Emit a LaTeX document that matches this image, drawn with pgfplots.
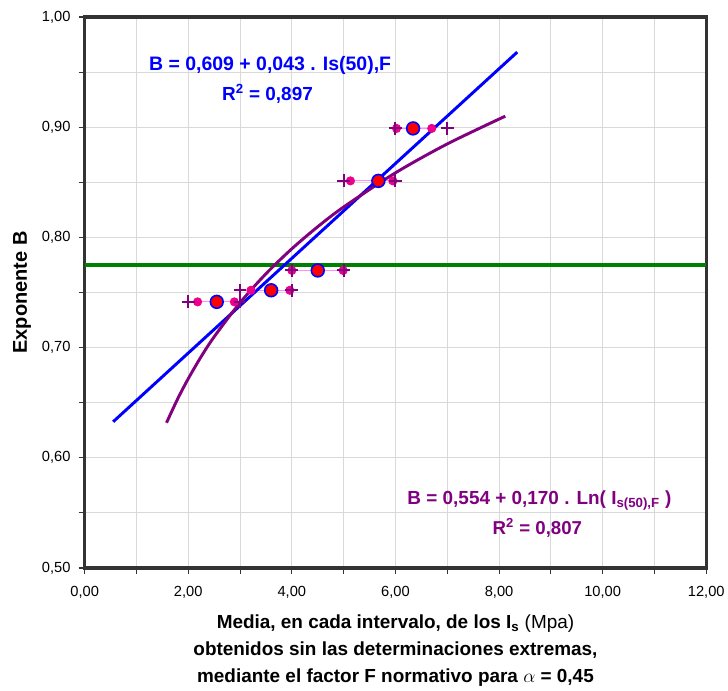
\documentclass[border=0pt]{standalone}
\usepackage{fontspec}
\setmainfont{Liberation Sans}
\usepackage{pgfplots}
\usepackage{pgfplotstable}
\pgfplotsset{compat=1.18}
\definecolor{gridgray}{RGB}{217,217,217}
\definecolor{framegray}{RGB}{51,51,51}
\definecolor{dpurple}{RGB}{128,0,128}
\definecolor{dgreen}{RGB}{0,128,0}
\definecolor{pinkline}{RGB}{255,140,255}

\pgfplotstableread{
x y
2.55 0.7415
3.60 0.7520
4.50 0.7700
5.67 0.8513
6.34 0.8989
}\means

\pgfplotstableread{
x y
2.0 0.7415
3.0 0.7415
3.0 0.7520
4.0 0.7520
4.0 0.7700
5.0 0.7700
5.0 0.8513
6.0 0.8513
6.0 0.8989
7.0 0.8989
}\bounds

\pgfplotstableread{
x y
0.55 0.6327
8.35 0.9681
}\linfit

\pgfplotstableread{
x y
1.58 0.6318
1.80 0.6539
2.00 0.6718
2.25 0.6919
2.50 0.7098
3.00 0.7408
3.50 0.7670
4.00 0.7897
4.50 0.8097
5.00 0.8276
6.00 0.8586
7.00 0.8848
8.12 0.9100
}\logfit

\begin{document}
\begin{tikzpicture}
\begin{axis}[
  width=466.2pt, height=413.25pt, scale only axis,
  xmin=0, xmax=12, ymin=0.5, ymax=1.0,
  xtick={0,2,4,6,8,10,12}, minor xtick={1,3,5,7,9,11},
  ytick={0.5,0.6,0.7,0.8,0.9,1.0}, minor ytick={0.55,0.65,0.75,0.85,0.95},
  grid=both,
  grid style={gridgray, line width=0.8pt},
  minor grid style={gridgray, line width=0.8pt},
  tick pos=left,
  tick align=outside,
  major tick length=4.5pt, minor tick length=4.5pt,
  tick style={framegray, line width=0.8pt},
  axis line style={framegray, line width=2.4pt},
  ticklabel style={font=\fontsize{11}{13}\selectfont},
  xticklabel style={yshift=-6pt},
  yticklabel style={xshift=-2.6pt},
  /pgf/number format/.cd, fixed, fixed zerofill, precision=2, use comma, assume math mode=true,
  /pgfplots/.cd,
  xlabel={Media, en cada intervalo, de los I\textsubscript{s} {\mdseries (Mpa)}\\obtenidos sin las determinaciones extremas,\\mediante el factor F normativo para $\alpha$ = 0,45},
  xlabel style={font=\fontsize{14.2}{19.9}\selectfont\bfseries, align=center,
    at={(axis description cs:0.5,0)}, anchor=north, inner sep=0pt, yshift=-35.25pt},
  ylabel={Exponente B},
  ylabel style={font=\fontsize{15}{17}\selectfont\bfseries,
    at={(axis description cs:0,0.5)}, anchor=center, xshift=0pt, yshift=47pt},
  clip=false,
]
\addplot[dgreen, line width=3pt] coordinates {(0,0.775) (12,0.775)};

\addplot[pinkline, line width=0.8pt, mark=*, mark size=3pt, mark options={draw=magenta, fill=magenta}] coordinates {(2.18,0.7415) (2.89,0.7415)};
\addplot[pinkline, line width=0.8pt, mark=*, mark size=3pt, mark options={draw=magenta, fill=magenta}] coordinates {(3.21,0.7520) (3.96,0.7520)};
\addplot[pinkline, line width=0.8pt, mark=*, mark size=3pt, mark options={draw=magenta, fill=magenta}] coordinates {(4.00,0.7700) (4.99,0.7700)};
\addplot[pinkline, line width=0.8pt, mark=*, mark size=3pt, mark options={draw=magenta, fill=magenta}] coordinates {(5.13,0.8513) (5.95,0.8513)};
\addplot[pinkline, line width=0.8pt, mark=*, mark size=3pt, mark options={draw=magenta, fill=magenta}] coordinates {(6.02,0.8989) (6.70,0.8989)};

\addplot[only marks, mark=+, mark size=4.8pt, mark options={draw=dpurple, line width=1.5pt}] table {\bounds};

\addplot[only marks, mark=*, mark size=4.8pt, mark options={draw=blue, fill=red, line width=1.2pt}] table {\means};

\addplot[blue, line width=2.2pt] table {\linfit};
\addplot[dpurple, line width=2.2pt, smooth] table {\logfit};

\node[anchor=base, text=blue, font=\fontsize{14.6}{16}\selectfont\bfseries] at (axis cs:3.58,0.9514) {B = 0,609 + 0,043 . Is(50),F};
\node[anchor=base, text=blue, font=\fontsize{14.2}{16}\selectfont\bfseries] at (axis cs:3.53,0.9242) {R\textsuperscript{2} = 0,897};
\node[anchor=base, text=dpurple, font=\fontsize{14.2}{16}\selectfont\bfseries] at (axis cs:8.78,0.5574) {B = 0,554 + 0,170 . Ln( I\textsubscript{s(50),F} )};
\node[anchor=base, text=dpurple, font=\fontsize{14}{16}\selectfont\bfseries] at (axis cs:8.74,0.5303) {R\textsuperscript{2} = 0,807};
\end{axis}
\path (current axis.south west) ++(-63.5pt,-92.25pt) coordinate (bbA);
\path (current axis.north east) ++(16.3pt,12.75pt) coordinate (bbB);
\pgfresetboundingbox
\path[use as bounding box] (bbA) rectangle (bbB);
\end{tikzpicture}
\end{document}
